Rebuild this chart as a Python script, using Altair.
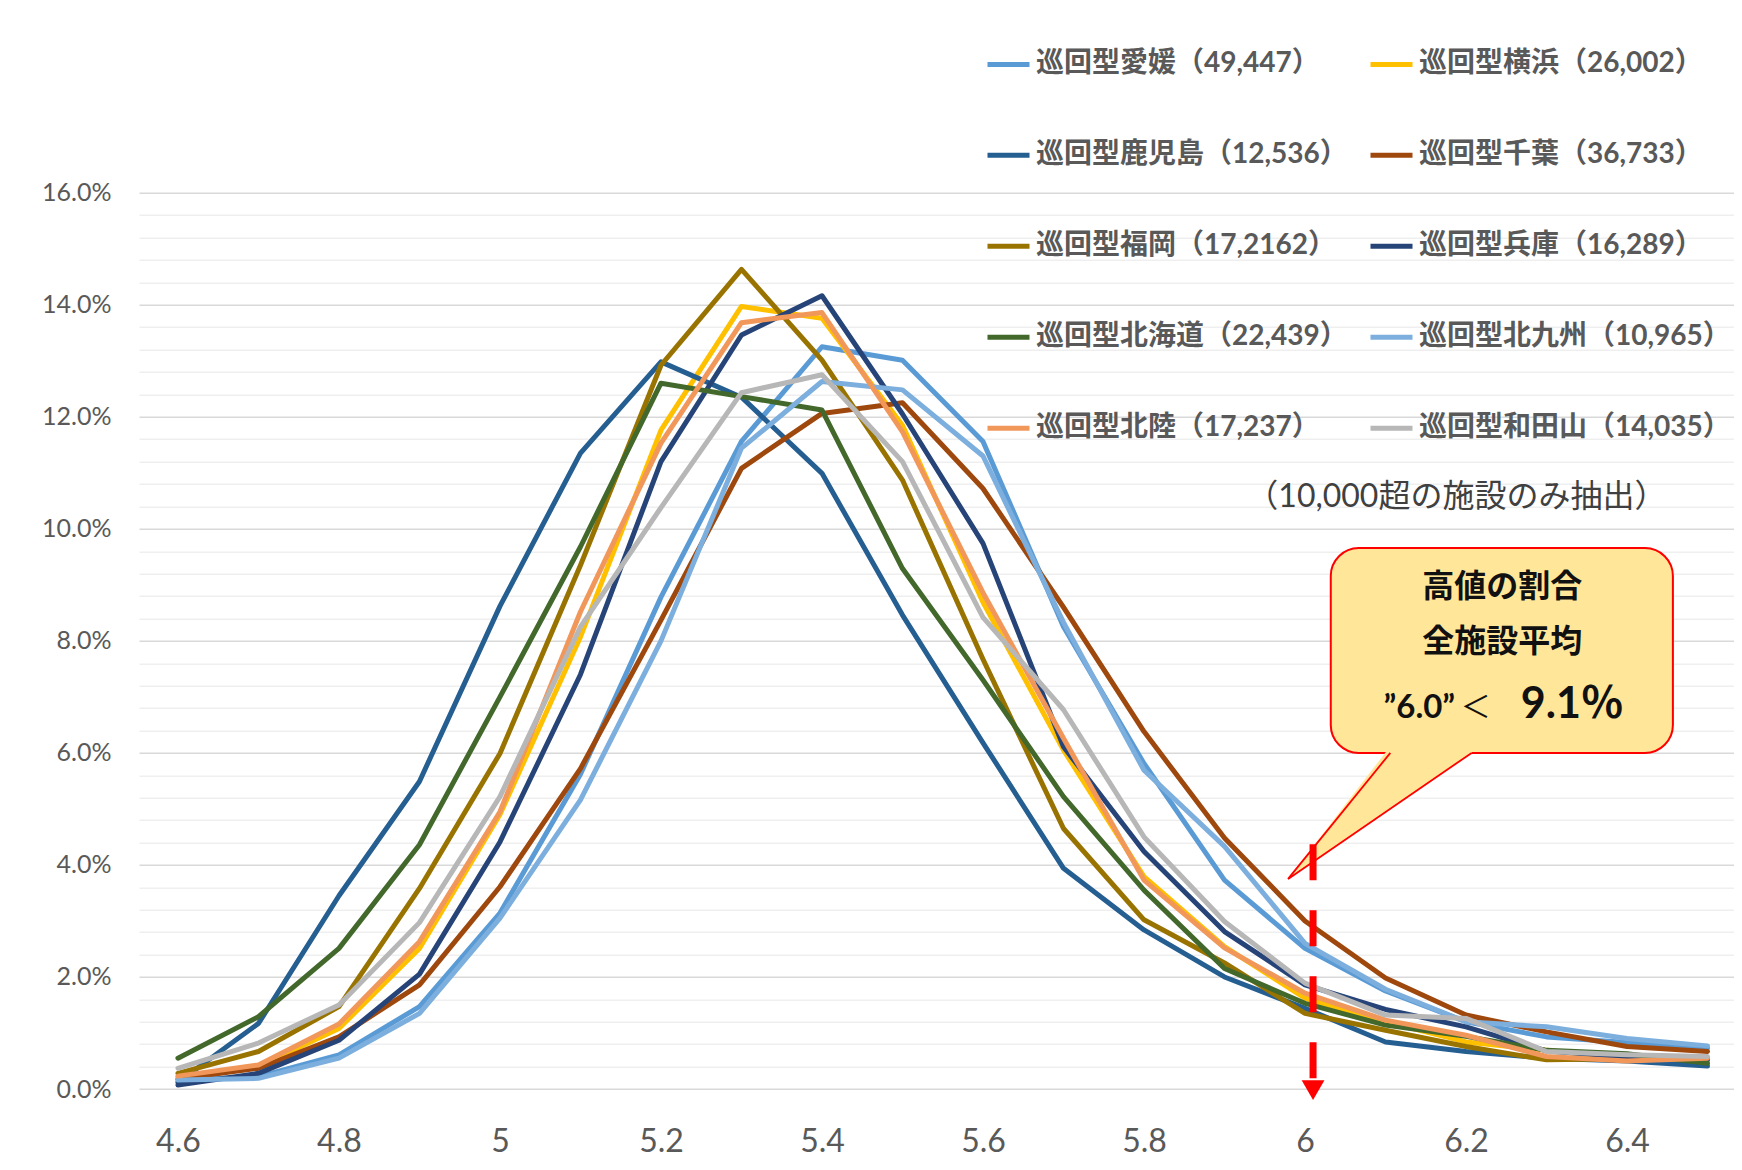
import altair as alt
import pandas as pd

# ---------------- data ----------------
x_vals = [4.6, 4.7, 4.8, 4.9, 5.0, 5.1, 5.2, 5.3, 5.4, 5.5,
          5.6, 5.7, 5.8, 5.9, 6.0, 6.1, 6.2, 6.3, 6.4, 6.5]

series_names = [
    "巡回型愛媛（49,447）", "巡回型横浜（26,002）",
    "巡回型鹿児島（12,536）", "巡回型千葉（36,733）",
    "巡回型福岡（17,2162）", "巡回型兵庫（16,289）",
    "巡回型北海道（22,439）", "巡回型北九州（10,965）",
    "巡回型北陸（17,237）", "巡回型和田山（14,035）",
]
series_colors = ["#5B9BD5", "#FFC000", "#255E91", "#9E480E", "#997300",
                 "#264478", "#43682B", "#7CAFDD", "#F1975A", "#B7B7B7"]

# values in percent
ehime     = [0.16, 0.22, 0.61, 1.47, 3.14, 5.62, 8.78, 11.56, 13.25, 13.01, 11.56, 8.25, 5.81, 3.73, 2.51, 1.75, 1.20, 0.93, 0.83, 0.73]
yokohama  = [0.22, 0.40, 1.08, 2.51, 4.90, 8.07, 11.76, 13.97, 13.76, 11.85, 8.69, 6.05, 3.79, 2.54, 1.62, 1.20, 0.84, 0.69, 0.55, 0.53]
kagoshima = [0.12, 1.17, 3.45, 5.49, 8.62, 11.35, 12.98, 12.35, 10.99, 8.46, 6.18, 3.94, 2.84, 2.00, 1.44, 0.84, 0.67, 0.55, 0.50, 0.41]
chiba     = [0.18, 0.37, 0.93, 1.86, 3.61, 5.72, 8.37, 11.08, 12.06, 12.25, 10.72, 8.60, 6.38, 4.48, 3.00, 1.98, 1.32, 1.02, 0.76, 0.67]
fukuoka   = [0.28, 0.67, 1.47, 3.58, 5.99, 9.35, 12.92, 14.63, 13.01, 10.87, 7.67, 4.65, 3.02, 2.25, 1.35, 1.05, 0.76, 0.52, 0.54, 0.52]
hyogo     = [0.07, 0.28, 0.87, 2.05, 4.41, 7.40, 11.20, 13.46, 14.16, 12.05, 9.74, 6.11, 4.24, 2.81, 1.86, 1.42, 1.11, 0.68, 0.57, 0.53]
hokkaido  = [0.55, 1.29, 2.51, 4.36, 7.00, 9.68, 12.60, 12.36, 12.12, 9.29, 7.30, 5.22, 3.55, 2.15, 1.53, 1.14, 0.94, 0.69, 0.63, 0.46]
kitakyu   = [0.16, 0.19, 0.55, 1.35, 3.05, 5.16, 8.00, 11.44, 12.63, 12.48, 11.30, 8.33, 5.69, 4.33, 2.60, 1.78, 1.20, 1.11, 0.90, 0.77]
hokuriku  = [0.23, 0.43, 1.16, 2.63, 4.95, 8.52, 11.53, 13.68, 13.86, 11.73, 8.86, 6.26, 3.73, 2.52, 1.71, 1.23, 0.96, 0.58, 0.50, 0.55]
wadayama  = [0.37, 0.82, 1.50, 2.97, 5.22, 8.25, 10.38, 12.43, 12.75, 11.20, 8.42, 6.77, 4.50, 2.99, 1.89, 1.32, 1.26, 0.67, 0.61, 0.58]

all_series = [ehime, yokohama, kagoshima, chiba, fukuoka, hyogo,
              hokkaido, kitakyu, hokuriku, wadayama]

x_tick_labels = [4.6, 4.8, 5.0, 5.2, 5.4, 5.6, 5.8, 6.0, 6.2, 6.4]
y_tick_values = [round(i * 0.004, 3) for i in range(41)]

# annotation (in data units: rating, share)
box = pd.DataFrame({"x": [6.032], "x2": [6.457], "y": [0.05998], "y2": [0.09657]})
tail_area = pd.DataFrame({"x": [5.979, 6.106, 6.207],
                          "y": [0.0375, 0.0612, 0.0612],
                          "y2": [0.0375, 0.0500, 0.0600]})
tail_edges = pd.DataFrame({"seg": ["a", "a", "b", "b"],
                           "x": [5.979, 6.106, 5.979, 6.207],
                           "y": [0.0375, 0.0600, 0.0375, 0.0600]})
callout_lines = pd.DataFrame({"t": ["高値の割合", "全施設平均"],
                              "x": [6.245, 6.245], "y": [0.0896, 0.0798]})
note = pd.DataFrame({"t": ["（10,000超の施設のみ抽出）"], "x": [6.188], "y": [0.1057]})
arrow_rule = pd.DataFrame({"x": [6.01], "y": [0.0437], "y2": [0.0016]})
arrow_head = pd.DataFrame({"x": [6.01], "y": [-0.0002]})

rows = []
for name, vals in zip(series_names, all_series):
    for xv, v in zip(x_vals, vals):
        rows.append({"series": name, "rating": xv, "share": v / 100.0})
df = pd.DataFrame(rows)

# ---------------- scales ----------------
xscale = alt.Scale(domain=[4.5516, 6.5329], nice=False, zero=False)
yscale = alt.Scale(domain=[0, 0.16], nice=False, zero=False)
NUMFONT = "Lato, Noto Sans CJK JP"
JPFONT = "Noto Sans CJK JP"

major_test = "round(datum.value * 1000) % 20 == 0"


def X(field):
    return alt.X(field, scale=xscale, title=None)


def Y(field):
    return alt.Y(field, scale=yscale, title=None)


lines = alt.Chart(df).mark_line(strokeWidth=5, strokeJoin="round", strokeCap="round").encode(
    x=alt.X("rating:Q", scale=xscale,
            axis=alt.Axis(values=x_tick_labels, format="~g", title=None, grid=False,
                          ticks=False, domain=False, labelFont=NUMFONT, labelFontSize=32,
                          labelColor="#595959", labelPadding=37, labelOverlap=False,
                          tickCount=20)),
    y=alt.Y("share:Q", scale=yscale,
            axis=alt.Axis(values=y_tick_values, tickCount=60, format=".1%", title=None,
                          ticks=False, domain=False, labelFont=NUMFONT, labelFontSize=25,
                          labelColor="#595959", labelPadding=28, labelOverlap=False,
                          labelExpr=f"{major_test} ? datum.label : ''",
                          gridColor={"condition": {"test": major_test, "value": "#D9D9D9"},
                                     "value": "#EFEFEF"},
                          gridWidth=1.6)),
    color=alt.Color("series:N", sort=series_names,
                    scale=alt.Scale(domain=series_names, range=series_colors),
                    legend=alt.Legend(title=None, orient="none", legendX=846, legendY=-152,
                                      direction="horizontal",
                                      columns=2, columnPadding=12, rowPadding=53, padding=0,
                                      symbolType="stroke", symbolSize=1764,
                                      symbolStrokeWidth=5, labelFont=NUMFONT,
                                      labelFontSize=28, labelFontWeight="bold",
                                      labelColor="#595959", labelLimit=0, labelOffset=4)),
)

box_layer = alt.Chart(box).mark_rect(fill="#FFE699", stroke="#FF0000", strokeWidth=2,
                                     cornerRadius=28).encode(
    x=X("x:Q"), x2="x2:Q", y=Y("y:Q"), y2="y2:Q")

tail_layer = alt.Chart(tail_area).mark_area(fill="#FFE699", opacity=1).encode(
    x=X("x:Q"), y=Y("y:Q"), y2="y2:Q")

edge_layer = alt.Chart(tail_edges).mark_line(color="#FF0000", strokeWidth=1.8).encode(
    x=X("x:Q"), y=Y("y:Q"), detail="seg:N")

callout_text = alt.Chart(callout_lines).mark_text(
    font=JPFONT, fontSize=32, fontWeight="bold", color="#111111",
    align="center", baseline="middle").encode(
    x=X("x:Q"), y=Y("y:Q"), text="t:N")

t_a = alt.Chart(pd.DataFrame({"t": ["”6.0”"], "x": [6.142], "y": [0.0680]})).mark_text(
    font=NUMFONT, fontSize=33, fontWeight="bold", color="#111111",
    align="center", baseline="middle").encode(
    x=X("x:Q"), y=Y("y:Q"), text="t:N")
t_b = alt.Chart(pd.DataFrame({"t": ["＜"], "x": [6.212], "y": [0.0680]})).mark_text(
    font=JPFONT, fontSize=30, color="#111111",
    align="center", baseline="middle").encode(
    x=X("x:Q"), y=Y("y:Q"), text="t:N")
t_c = alt.Chart(pd.DataFrame({"t": ["9.1％"], "x": [6.332], "y": [0.0685]})).mark_text(
    font=NUMFONT, fontSize=43, fontWeight="bold", color="#111111",
    align="center", baseline="middle").encode(
    x=X("x:Q"), y=Y("y:Q"), text="t:N")

note_layer = alt.Chart(note).mark_text(
    font=NUMFONT, fontSize=32, color="#404040", align="center", baseline="middle").encode(
    x=X("x:Q"), y=Y("y:Q"), text="t:N")

rule_layer = alt.Chart(arrow_rule).mark_rule(color="#FF0000", strokeWidth=7,
                                             strokeDash=[36, 30], strokeCap="butt").encode(
    x=X("x:Q"), y=Y("y:Q"), y2="y2:Q")

head_layer = alt.Chart(arrow_head).mark_point(shape="triangle-down", filled=True,
                                              color="#FF0000", size=520, opacity=1).encode(
    x=X("x:Q"), y=Y("y:Q"))

chart = alt.layer(
    lines, box_layer, tail_layer, edge_layer, callout_text, t_a, t_b, t_c,
    note_layer, rule_layer, head_layer
).properties(
    width=1595, height=896.3,
    autosize=alt.AutoSizeParams(type="none"),
    padding={"left": 131, "top": 184.7, "right": 0, "bottom": 75},
    background="white",
).configure_view(stroke=None)

chart.save("out.html", embed_options={"renderer": "svg", "actions": False})
